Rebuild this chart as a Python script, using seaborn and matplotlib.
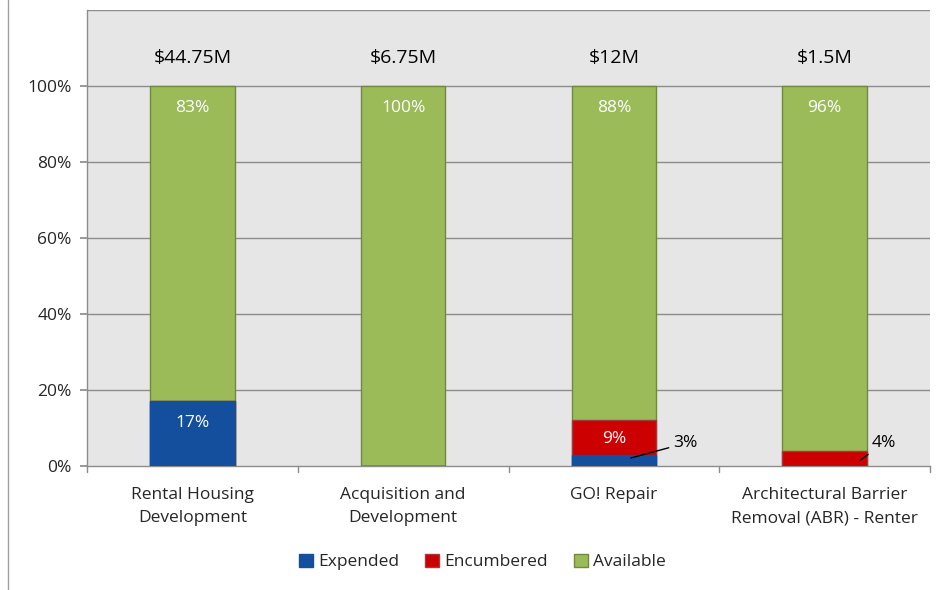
import matplotlib
matplotlib.use("Agg")
import matplotlib.pyplot as plt
import seaborn as sns
import pandas as pd
import numpy as np
from matplotlib.patches import Patch
from matplotlib.lines import Line2D

categories = ["Rental Housing\nDevelopment", "Acquisition and\nDevelopment",
              "GO! Repair", "Architectural Barrier\nRemoval (ABR) - Renter"]
expended = [17, 0, 3, 0]
encumbered = [0, 0, 9, 4]
available = [83, 100, 88, 96]
totals = ["$44.75M", "$6.75M", "$12M", "$1.5M"]
series = ["Expended", "Encumbered", "Available"]
colors = {"Expended": "#134F9C", "Encumbered": "#CC0000", "Available": "#9BBB59"}
edges = {"Expended": "#134F9C", "Encumbered": "#A33A3A", "Available": "#71893F"}

sns.set_theme(style="white")
plt.rcParams['font.family'] = ['Open Sans', 'DejaVu Sans']

df = pd.DataFrame({"cat": categories, "Expended": expended,
                   "Encumbered": encumbered, "Available": available})
df["cum_exp"] = df["Expended"]
df["cum_enc"] = df["Expended"] + df["Encumbered"]
df["cum_av"] = df["cum_enc"] + df["Available"]

fig = plt.figure(figsize=(9.46, 5.90), dpi=100)
ax = fig.add_axes([87/946, 1-466/590, (930-87)/946, (466-10)/590])
ax.set_facecolor("#E6E6E6")

for col, s in [("cum_av", "Available"), ("cum_enc", "Encumbered"), ("cum_exp", "Expended")]:
    sns.barplot(data=df, x="cat", y=col, color=colors[s], width=0.4, ax=ax,
                saturation=1, edgecolor=edges[s], linewidth=1, zorder=3)

ax.set_ylim(0, 120)
ax.set_xlim(-0.5, 3.5)
ax.set_yticks([0, 20, 40, 60, 80, 100])
ax.set_yticklabels([f"{v}%" for v in [0, 20, 40, 60, 80, 100]], fontsize=12.5)
for yv in [20, 40, 60, 80, 100, 120]:
    ax.axhline(yv, color="#8C8C8C", linewidth=1, zorder=1)
ax.set_xlabel("")
ax.set_ylabel("")
ax.set_xticks([0, 1, 2, 3])
ax.set_xticklabels(categories, fontsize=12.5, linespacing=1.6)
ax.tick_params(axis="x", length=0, pad=15)
ax.tick_params(axis="y", length=5, color="#8C8C8C", direction="out", left=True, pad=6)
# category boundary ticks
for xb in [-0.5, 0.5, 1.5, 2.5, 3.5]:
    ax.plot([xb, xb], [0, -1.6], color="#8C8C8C", lw=1, clip_on=False, zorder=4)
for sp in ["top", "right"]:
    ax.spines[sp].set_visible(False)
for sp in ["left", "bottom"]:
    ax.spines[sp].set_color("#8C8C8C")
    ax.spines[sp].set_linewidth(1)

# totals above
for i, t in enumerate(totals):
    ax.text(i, 107.5, t, ha="center", va="center", fontsize=14, color="black")

# inside labels
for i in range(4):
    ex, en, av = expended[i], encumbered[i], available[i]
    ax.text(i, df["cum_av"][i] - 5.8, f"{av}%", ha="center", va="center",
            fontsize=12.5, color="white", zorder=5)
    if ex >= 10:
        ax.text(i, ex - 5.8, f"{ex}%", ha="center", va="center",
                fontsize=12.5, color="white", zorder=5)
    if en >= 8:
        ax.text(i, df["cum_enc"][i] - 5, f"{en}%", ha="center", va="center",
                fontsize=12.5, color="white", zorder=5)

# outside labels with leader lines
ax.annotate(f"{expended[2]}%", xy=(2.08, expended[2] / 2 + 0.6), xytext=(2.34, 6),
            ha="center", va="center", fontsize=12.5, color="black",
            arrowprops=dict(arrowstyle="-", color="black", lw=1, shrinkA=1, shrinkB=0),
            zorder=6)
ax.annotate(f"{encumbered[3]}%", xy=(3.17, encumbered[3] / 2 - 0.4), xytext=(3.28, 6),
            ha="center", va="center", fontsize=12.5, color="black",
            arrowprops=dict(arrowstyle="-", color="black", lw=1, shrinkA=0, shrinkB=0),
            zorder=6)

handles = [Patch(facecolor=colors[s], edgecolor=edges[s], label=s) for s in series]
fig.legend(handles=handles, loc="center", bbox_to_anchor=(0.51, 1-562/590), ncol=3,
           frameon=False, fontsize=12.5, handlelength=0.8, handleheight=0.8,
           handletextpad=0.3, columnspacing=1.5)

fig.add_artist(Line2D([8/946, 8/946], [0, 1], color="#A0A0A0", lw=1))

fig.savefig("out.png", dpi=100)
